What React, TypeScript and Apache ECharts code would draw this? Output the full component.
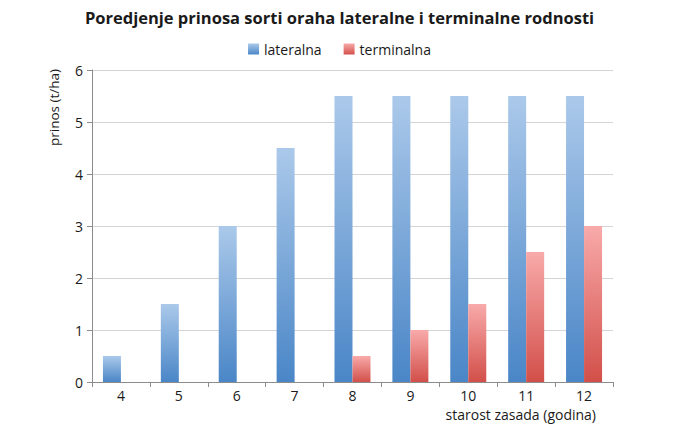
import React, { useEffect, useRef } from "react";
import * as echarts from "echarts";

const categories = ["4", "5", "6", "7", "8", "9", "10", "11", "12"];
const lateralna = [0.5, 1.5, 3, 4.5, 5.5, 5.5, 5.5, 5.5, 5.5];
const terminalna = [0, 0, 0, 0, 0.5, 1, 1.5, 2.5, 3];
const titleText = "Poredjenje prinosa sorti oraha lateralne i terminalne rodnosti";
const yName = "prinos (t/ha)";
const xName = "starost zasada (godina)";

const font = "'Open Sans', 'Noto Sans', sans-serif";

const blueGrad = new echarts.graphic.LinearGradient(0, 0, 0, 1, [
  { offset: 0, color: "#abc9ea" },
  { offset: 1, color: "#4a86c7" },
]);
const redGrad = new echarts.graphic.LinearGradient(0, 0, 0, 1, [
  { offset: 0, color: "#f8aaaa" },
  { offset: 1, color: "#d24f49" },
]);

export default function App() {
  const ref = useRef<HTMLDivElement>(null);
  useEffect(() => {
    if (!ref.current) return;
    const chart = echarts.init(ref.current, null, { renderer: "svg" });
    chart.setOption({
      animation: false,
      backgroundColor: "#ffffff",
      textStyle: { fontFamily: font },
      title: {
        text: titleText,
        left: "center",
        top: 4,
        textStyle: { fontFamily: font, fontSize: 16.5, fontWeight: "bold", color: "#1a1a1a" },
      },
      legend: {
        top: 37,
        left: "center",
        itemWidth: 11,
        itemHeight: 11,
        itemGap: 22,
        icon: "rect",
        textStyle: { fontFamily: font, fontSize: 14, color: "#1a1a1a" },
        data: ["lateralna", "terminalna"],
      },
      grid: { left: 92, right: 66, top: 70, bottom: 52, containLabel: false },
      xAxis: {
        type: "category",
        data: categories,
        axisLine: { lineStyle: { color: "#8c8c8c" } },
        axisTick: { show: true, alignWithLabel: false, length: 5, lineStyle: { color: "#8c8c8c" } },
        axisLabel: { fontFamily: font, fontSize: 14, color: "#1a1a1a", margin: 6 },
      },
      yAxis: {
        type: "value",
        min: 0,
        max: 6,
        interval: 1,
        axisLine: { show: true, lineStyle: { color: "#8c8c8c" } },
        axisTick: { show: true, length: 5, lineStyle: { color: "#8c8c8c" } },
        axisLabel: { fontFamily: font, fontSize: 14, color: "#1a1a1a", margin: 9 },
        splitLine: { lineStyle: { color: "#d4d4d4" } },
      },
      graphic: [
        {
          type: "text",
          x: 47,
          y: 146,
          rotation: Math.PI / 2,
          style: { text: yName, fontFamily: font, fontSize: 13.5, fill: "#1a1a1a", textAlign: "left", textVerticalAlign: "top" },
        },
        {
          type: "text",
          x: 596,
          y: 407,
          style: { text: xName, fontFamily: font, fontSize: 14, fill: "#1a1a1a", textAlign: "right", textVerticalAlign: "top" },
        },
      ],
      series: [
        {
          name: "lateralna",
          type: "bar",
          data: lateralna,
          barWidth: 18,
          barGap: "0%",
          itemStyle: { color: blueGrad },
        },
        {
          name: "terminalna",
          type: "bar",
          data: terminalna,
          barWidth: 18,
          barGap: "0%",
          itemStyle: { color: redGrad },
        },
      ],
    });
    return () => chart.dispose();
  }, []);
  return <div ref={ref} style={{ width: 679, height: 434, margin: -8 }} />;
}
